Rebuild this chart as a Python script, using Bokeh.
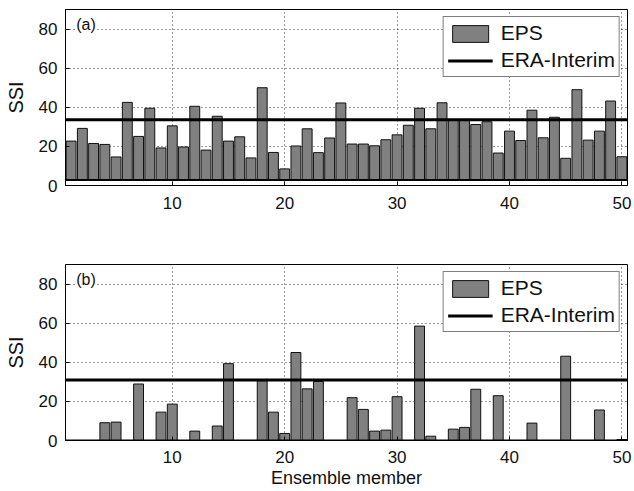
from bokeh.plotting import figure
from bokeh.models import Range1d, FixedTicker, Label, Legend, LegendItem, Span
from bokeh.layouts import column
from bokeh.embed import file_html
from bokeh.resources import INLINE

# ---------------- data ----------------
members = list(range(1, 51))

eps_a = [22.7, 29.2, 21.5, 21.0, 14.6, 42.5, 25.1, 39.5, 19.2, 30.5,
         19.7, 40.5, 18.1, 35.4, 22.7, 24.9, 14.1, 50.0, 16.9, 8.5,
         20.2, 29.0, 16.8, 24.3, 42.2, 21.2, 21.2, 20.3, 23.4, 25.9,
         30.8, 39.5, 29.0, 42.3, 33.8, 33.8, 31.2, 32.6, 16.6, 27.8,
         23.0, 38.5, 24.4, 34.9, 13.9, 49.0, 23.2, 27.8, 43.2, 14.7]
era_a = 33.6
base_a = 2.8

eps_b = [0.0, 0.0, 0.0, 9.1, 9.4, 0.0, 28.9, 0.0, 14.5, 18.6,
         0.0, 4.8, 0.0, 7.4, 39.3, 0.0, 0.0, 30.6, 14.5, 3.6,
         45.0, 26.4, 30.2, 0.0, 0.0, 21.9, 15.9, 4.8, 5.3, 22.4,
         0.0, 58.5, 2.2, 0.0, 5.8, 6.7, 26.2, 0.0, 22.9, 0.0,
         0.0, 8.9, 0.0, 0.0, 43.1, 0.0, 0.0, 15.6, 0.0, 0.5]
era_b = 30.9
base_b = 0.0

x_ticks = [10, 20, 30, 40, 50]
y_ticks = [0, 20, 40, 60, 80]
x_lim = (0.5, 50.5)
y_lim = (0, 90)
panel_tags = ["(a)", "(b)"]
legend_labels = ["EPS", "ERA-Interim"]
x_label = "Ensemble member"
y_label = "SSI"

FONT = "Liberation Sans"
BAR_FILL = "#808080"


def make_panel(vals, era, base, tag, height, b_left, b_top, b_bottom, xlabel, tick_standoff):
    p = figure(width=634, height=height, output_backend="svg", toolbar_location=None,
               x_range=Range1d(*x_lim), y_range=Range1d(*y_lim),
               min_border_left=b_left, min_border_right=7,
               min_border_top=b_top, min_border_bottom=b_bottom)
    p.outline_line_color = "black"
    p.outline_line_width = 1
    p.background_fill_color = "white"

    # grid
    p.xgrid.ticker = FixedTicker(ticks=x_ticks)
    p.ygrid.ticker = FixedTicker(ticks=y_ticks)
    for g in (p.xgrid, p.ygrid):
        g.grid_line_color = "#333333"
        g.grid_line_dash = "1 3"
        g.grid_line_width = 1

    # axes
    p.xaxis.ticker = FixedTicker(ticks=x_ticks)
    p.yaxis.ticker = FixedTicker(ticks=y_ticks)
    for ax in (p.xaxis[0], p.yaxis[0]):
        ax.major_tick_in = 4
        ax.major_tick_out = 0
        ax.minor_tick_line_color = None
        ax.axis_line_color = "black"
        ax.major_tick_line_color = "black"
        ax.major_label_text_font = FONT
        ax.major_label_text_font_size = "17px"
        ax.major_label_text_color = "#111111"
        ax.axis_label_text_font = FONT
        ax.axis_label_text_font_style = "normal"
        ax.axis_label_text_color = "#111111"
    p.yaxis.major_label_standoff = 8
    p.yaxis.axis_label = y_label
    p.yaxis.axis_label_text_font_size = "20px"
    p.yaxis.axis_label_standoff = 9
    p.xaxis.major_label_standoff = tick_standoff
    if xlabel:
        p.xaxis.axis_label = xlabel
        p.xaxis.axis_label_text_font_size = "18px"
        p.xaxis.axis_label_standoff = 2

    # bars
    bars = p.vbar(x=members, top=vals, bottom=base, width=0.88,
                  fill_color=BAR_FILL, line_color="#111111", line_width=1)
    # baseline
    p.add_layout(Span(location=base, dimension="width", line_color="black", line_width=2))
    # reference line
    ref = p.line(x=list(x_lim), y=[era, era], line_color="black", line_width=3)

    legend = Legend(items=[LegendItem(label=legend_labels[0], renderers=[bars]),
                           LegendItem(label=legend_labels[1], renderers=[ref])],
                    location="top_right", margin=7, padding=4, spacing=3,
                    glyph_width=45, glyph_height=21, label_standoff=8,
                    label_text_font=FONT, label_text_font_size="21px",
                    label_text_color="#111111",
                    border_line_color="black", border_line_width=1,
                    background_fill_color="white", background_fill_alpha=1)
    p.add_layout(legend)

    p.add_layout(Label(x=1.45, y=86.5, text=tag, text_baseline="top",
                       text_font=FONT, text_font_size="16px", text_color="#111111",
                       background_fill_color="white"))
    return p


pa = make_panel(eps_a, era_a, base_a, panel_tags[0], 250, 63, 9, 65, None, 11)
pb = make_panel(eps_b, era_b, base_b, panel_tags[1], 241, 65, 14, 51, x_label, 10)

layout = column(pa, pb, spacing=0)
open("out.html", "w").write(file_html(layout, INLINE))
